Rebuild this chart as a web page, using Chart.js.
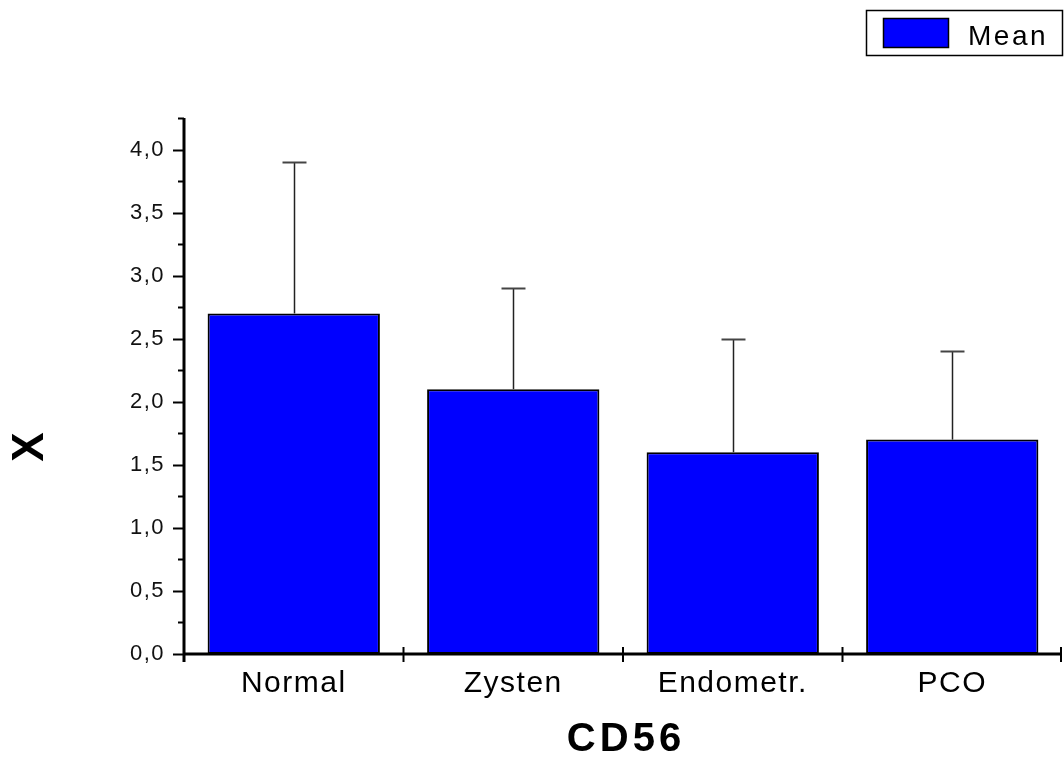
<!DOCTYPE html>
<html>
<head>
<meta charset="utf-8">
<script src="https://cdn.jsdelivr.net/npm/chart.js@4"></script>
<style>
  html, body { margin: 0; padding: 0; background: #fff; }
  #wrap { width: 1064px; height: 760px; }
</style>
</head>
<body>
<div id="wrap"><canvas id="c" width="1064" height="760"></canvas></div>
<script>
// Groups along the x axis
const categories = ['Normal', 'Zysten', 'Endometr.', 'PCO'];
// Mean value for each group
const means = [2.7, 2.1, 1.6, 1.7];
// Upper error (standard deviation) for each group
const errors = [1.2, 0.8, 0.9, 0.7];
// Y axis range and tick spacing
const yMin = 0;
const yMax = 4.25;
const yMajorStep = 0.5;
const yMinorStep = 0.25;

const FONT = '"Liberation Sans", Arial, sans-serif';

// Slightly wider text spacing for the axis labels
const spacing = {
  id: 'spacing',
  beforeDraw(chart) {
    if ('letterSpacing' in chart.ctx) chart.ctx.letterSpacing = '1.5px';
  }
};

// Axis lines, tick marks, error bars, titles and the legend box
const decorations = {
  id: 'decorations',
  afterDatasetsDraw(chart) {
    const ctx = chart.ctx;
    const xs = chart.scales.x;
    const ys = chart.scales.y;
    const area = chart.chartArea;
    const meta = chart.getDatasetMeta(0);

    // error bars (upper side only)
    ctx.save();
    meta.data.forEach((bar, i) => {
      const x = Math.round(bar.x) + 0.5;
      const yTop = Math.round(ys.getPixelForValue(means[i] + errors[i])) + 0.5;
      const yBase = ys.getPixelForValue(means[i]);
      ctx.strokeStyle = '#222';
      ctx.lineWidth = 1.5;
      ctx.beginPath();
      ctx.moveTo(x, yBase);
      ctx.lineTo(x, yTop);
      ctx.stroke();
      ctx.strokeStyle = '#444';
      ctx.lineWidth = 2;
      ctx.beginPath();
      ctx.moveTo(x - 12, yTop);
      ctx.lineTo(x + 12, yTop);
      ctx.stroke();
    });
    ctx.restore();

    ctx.save();
    ctx.strokeStyle = '#000';
    // y axis line
    const x0 = area.left;
    const yBottom = ys.getPixelForValue(yMin);
    ctx.lineWidth = 3;
    ctx.beginPath();
    ctx.moveTo(x0, ys.getPixelForValue(yMax));
    ctx.lineTo(x0, yBottom + 8);
    ctx.stroke();
    // x axis line
    ctx.beginPath();
    ctx.moveTo(x0, yBottom);
    ctx.lineTo(area.right, yBottom);
    ctx.stroke();

    // y ticks: major and minor, pointing outward
    ctx.lineWidth = 2;
    for (let v = yMin; v <= yMax + 1e-9; v += yMinorStep) {
      const y = Math.round(ys.getPixelForValue(v)) + 0.5;
      const major = Math.abs(v / yMajorStep - Math.round(v / yMajorStep)) < 1e-6;
      const len = major ? 11 : 6;
      ctx.beginPath();
      ctx.moveTo(x0 - len, y);
      ctx.lineTo(x0, y);
      ctx.stroke();
    }

    // x ticks at category boundaries, crossing the axis
    for (let i = 1; i <= categories.length; i++) {
      const mid = (xs.getPixelForValue(i - 1) + xs.getPixelForValue(i)) / 2;
      const xx = i === categories.length ? area.right - 1 : mid;
      ctx.beginPath();
      ctx.moveTo(xx, yBottom - 7);
      ctx.lineTo(xx, yBottom + 8);
      ctx.stroke();
    }
    ctx.restore();

    // x axis title
    ctx.save();
    ctx.fillStyle = '#000';
    ctx.font = 'bold 40px ' + FONT;
    ctx.textAlign = 'center';
    ctx.textBaseline = 'alphabetic';
    if ('letterSpacing' in ctx) ctx.letterSpacing = '4px';
    ctx.fillText('CD56', (area.left + area.right) / 2 + 3, 751);
    ctx.restore();

    // y axis title
    ctx.save();
    ctx.fillStyle = '#000';
    ctx.font = 'bold 44px ' + FONT;
    if ('letterSpacing' in ctx) ctx.letterSpacing = '0px';
    ctx.translate(29, 447);
    ctx.rotate(-Math.PI / 2);
    ctx.textAlign = 'center';
    ctx.textBaseline = 'middle';
    ctx.fillText('X', 0, 2);
    ctx.restore();

    // legend
    ctx.save();
    ctx.strokeStyle = '#000';
    ctx.lineWidth = 1.5;
    ctx.strokeRect(866.5, 10.5, 196, 45);
    ctx.fillStyle = '#0000ff';
    ctx.fillRect(883, 18, 66, 30);
    ctx.strokeRect(883.5, 18.5, 65, 29);
    ctx.fillStyle = '#000';
    ctx.font = '28px ' + FONT;
    if ('letterSpacing' in ctx) ctx.letterSpacing = '2.5px';
    ctx.textBaseline = 'alphabetic';
    ctx.textAlign = 'left';
    ctx.fillText(chart.data.datasets[0].label, 968, 45);
    ctx.restore();
  }
};

new Chart(document.getElementById('c'), {
  type: 'bar',
  data: {
    labels: categories,
    datasets: [{
      label: 'Mean',
      data: means,
      backgroundColor: '#0000ff',
      borderColor: '#000000',
      borderWidth: 2,
      borderSkipped: false,
      categoryPercentage: 1,
      barPercentage: 0.785
    }]
  },
  options: {
    responsive: false,
    animation: false,
    devicePixelRatio: 1,
    layout: { padding: { top: 118, right: 2, left: 0, bottom: 0 } },
    plugins: {
      legend: { display: false },
      tooltip: { enabled: false }
    },
    scales: {
      x: {
        offset: true,
        border: { display: false },
        grid: { display: false, drawTicks: false },
        ticks: {
          color: '#000',
          font: { family: FONT, size: 30 },
          padding: 12,
          maxRotation: 0
        },
        afterFit(s) { s.height = 760 - 654; }
      },
      y: {
        min: yMin,
        max: yMax,
        border: { display: false },
        grid: { display: false, drawTicks: false },
        ticks: {
          stepSize: yMinorStep,
          autoSkip: false,
          color: '#111',
          font: { family: FONT, size: 22 },
          padding: 19,
          callback(v) {
            const r = v / yMajorStep;
            return Math.abs(r - Math.round(r)) < 1e-6 ? v.toFixed(1).replace('.', ',') : '';
          }
        },
        afterFit(s) { s.width = 184; }
      }
    }
  },
  plugins: [spacing, decorations]
});
</script>
</body>
</html>
